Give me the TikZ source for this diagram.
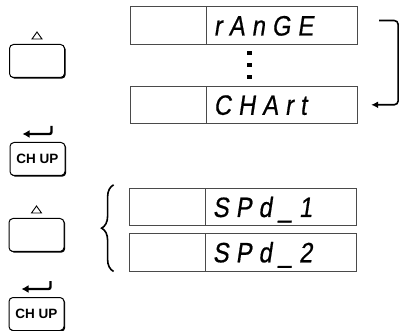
\documentclass[tikz,border=0pt]{standalone}
\usepackage{fontspec}
\usepackage{xcolor}
\usepackage{tikz}
\usetikzlibrary{positioning,shadows,arrows.meta,decorations.pathreplacing}
\setsansfont{Liberation Sans}
\newfontfamily\segfont[FakeSlant=0.15,FakeStretch=0.85,FakeBold=0.6,LetterSpace=25]{Liberation Sans}
\definecolor{panelgray}{HTML}{4A4A4A}

\begin{document}
\begin{tikzpicture}[x=1pt,y=-1pt,
    keybox/.style={draw, line width=1pt, rounded corners=4pt, fill=white,
      minimum width=55pt, minimum height=33pt, inner sep=0pt,
      font=\sffamily\bfseries\fontsize{13.5}{13.5}\selectfont,
      drop shadow={shadow xshift=1.2pt, shadow yshift=-1.2pt, opacity=1, fill=black}},
    blankcell/.style={draw=panelgray, line width=0.8pt, minimum width=76pt,
      minimum height=37.5pt, inner sep=0pt},
    textcell/.style={blankcell, minimum width=151pt, text width=137pt,
      inner xsep=7pt, align=left, text height=20pt, text depth=0pt,
      font=\segfont\fontsize{28}{28}\selectfont},
    vdot/.style={fill=black, minimum size=4.5pt, inner sep=0pt},
    uptri/.style={draw, line width=0.9pt, line join=miter},
    retarrow/.style={line width=2.4pt, rounded corners=2pt,
      -{Latex[length=7pt,width=8pt]}},
    looparrow/.style={line width=1.6pt, rounded corners=4pt,
      -{Latex[length=7pt,width=7pt]}},
    bracestyle/.style={line width=1.6pt,
      decorate, decoration={brace, amplitude=12pt}}]
  \useasboundingbox (0,0) rectangle (399,331);

  % keys
  \node[keybox] (upA) at (37,61) {};
  \node[keybox] (chupA) at (37.5,159) {CH UP};
  \node[keybox] (upB) at (36.5,235) {};
  \node[keybox] (chupB) at (36.5,314) {CH UP};

  \draw[uptri] ([shift={(-5pt,5pt)}]upA.north) -- ++(5,-7) -- ++(5,7) -- cycle;
  \draw[uptri] ([shift={(-5pt,5pt)}]upB.north) -- ++(5,-7) -- ++(5,7) -- cycle;
  \draw[retarrow] ([shift={(14pt,16pt)}]chupA.north) |- ([shift={(-15pt,8pt)}]chupA.north);
  \draw[retarrow] ([shift={(14pt,16pt)}]chupB.north) |- ([shift={(-15pt,8pt)}]chupB.north);

  % displays
  \node[blankcell] (rangeL) at (168,25.5) {};
  \node[textcell, right=0pt of rangeL] (range) {rAnGE};
  \node[blankcell, below=41pt of rangeL] (chartL) {};
  \node[textcell, right=0pt of chartL] (chart) {CHArt};

  \foreach \dy [count=\i] in {53,65,77}
    \node[vdot] (vdot\i) at (249.5,\dy) {};

  \draw[looparrow] ([shift={(21pt,5pt)}]range.east) -- ++(19,0)
    |- ([xshift=13pt]chart.east);

  \node[blankcell] (spdAL) at (167,207) {};
  \node[textcell, right=0pt of spdAL] (spdA) {SPd\_1};
  \node[blankcell, below=7pt of spdAL] (spdBL) {};
  \node[textcell, right=0pt of spdBL] (spdB) {SPd\_2};

  \draw[bracestyle] ([xshift=-15pt]spdBL.south west)
    -- ([shift={(-15pt,3pt)}]spdAL.north west);
\end{tikzpicture}
\end{document}
